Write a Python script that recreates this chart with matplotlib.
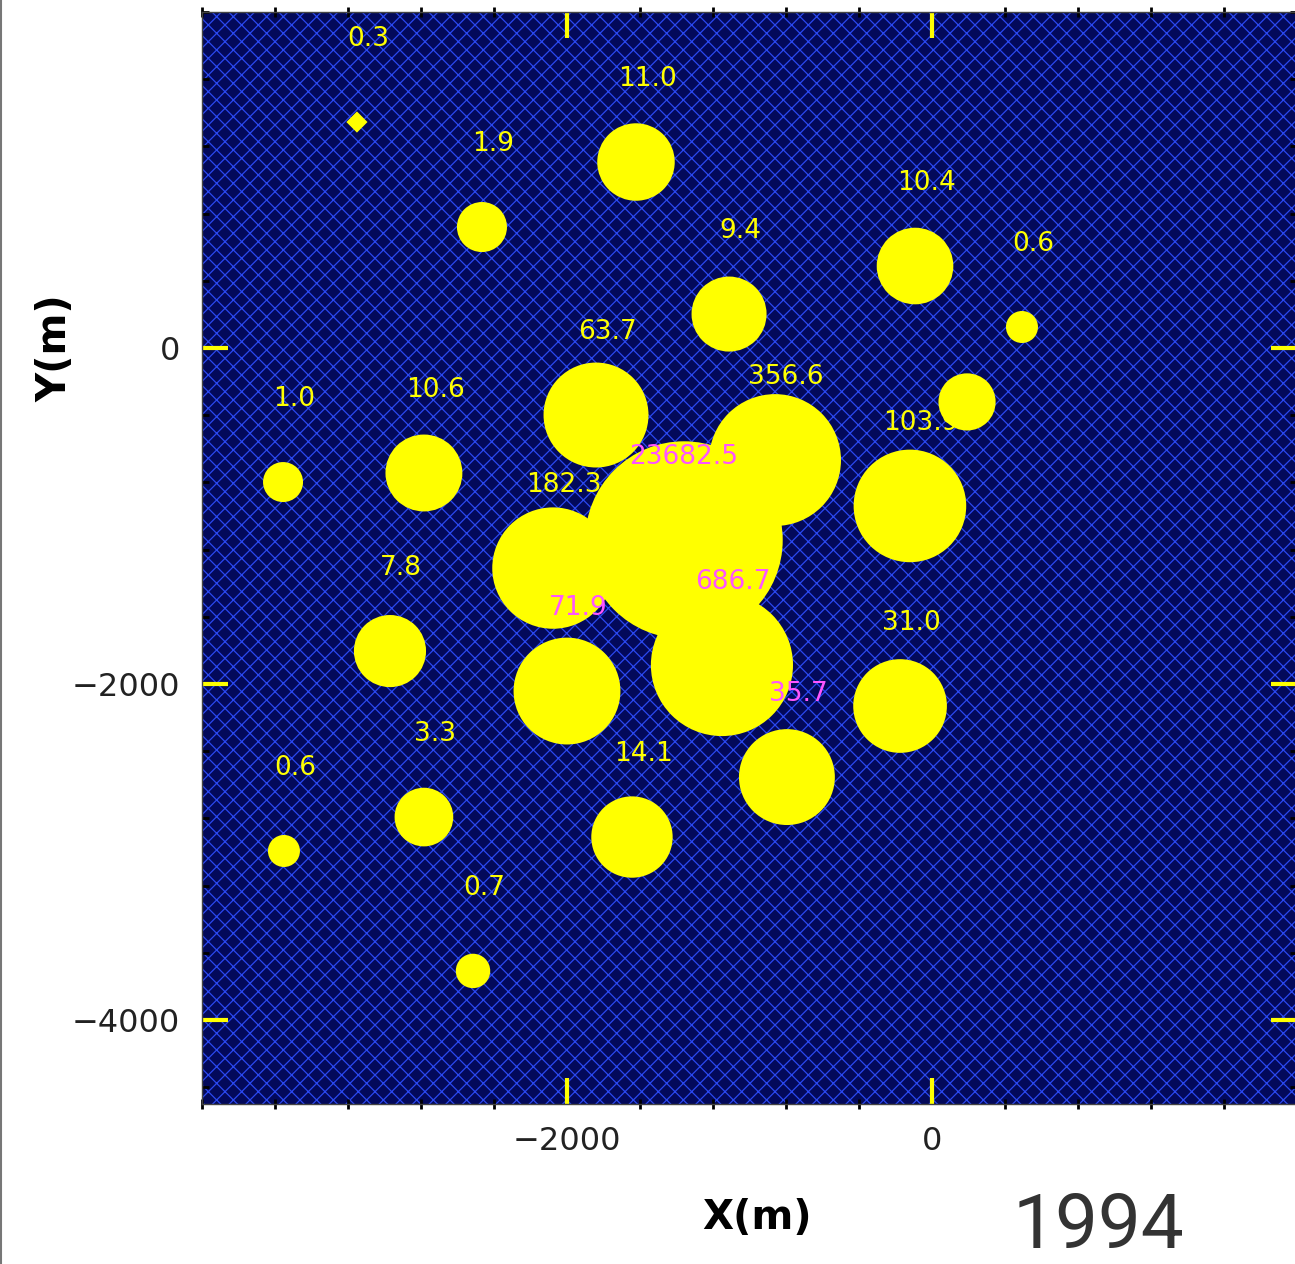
import numpy as np
import matplotlib.pyplot as plt
from matplotlib.patches import Rectangle
from matplotlib.lines import Line2D
from matplotlib.ticker import MultipleLocator

plt.rcParams['hatch.linewidth'] = 0.9

# well positions (m) and values for 1994
well_x = [-3151, -2466, -1622, -1112, -93, 493, 192, -3556, -2784, -1841,
          -860, -121, -1359, -2077, -2970, -2000, -1151, -175, -795, -2784,
          -3551, -1644, -2515]
well_y = [1345, 720, 1107, 202, 488, 125, -321, -798, -744, -399,
          -667, -940, -1143, -1310, -1804, -2042, -1887, -2131, -2554, -2792,
          -2994, -2911, -3708]
well_val = [0.3, 1.9, 11.0, 9.4, 10.4, 0.6, 3.0, 1.0, 10.6, 63.7,
            356.6, 103.9, 23682.5, 182.3, 7.8, 71.9, 686.7, 31.0, 35.7, 3.3,
            0.6, 14.1, 0.7]
well_lbl = ['0.3', '1.9', '11.0', '9.4', '10.4', '0.6', '', '1.0', '10.6', '63.7',
            '356.6', '103.9', '23682.5', '182.3', '7.8', '71.9', '686.7', '31.0', '35.7', '3.3',
            '0.6', '14.1', '0.7']
pink_lbl = ['23682.5', '686.7', '71.9', '35.7']

xticks = [-2000, 0]
yticks = [0, -2000, -4000]

df_x = np.array(well_x)
df_y = np.array(well_y)
val = np.array(well_val)

# marker radius grows with log of value (pixels)
r_px = 20 + 18 * np.log10(val)
ms = 2 * r_px * 0.72
small = val < 0.5

fig = plt.figure(figsize=(12.95, 12.64), dpi=100)
ax = fig.add_axes([202 / 1295, 160 / 1264, 1095 / 1295, 1092 / 1264])
ax.set_xlim(-4000, 2000)
ax.set_ylim(-4500, 2000)

# patterned background
ax.set_facecolor('#03095a')
ax.add_patch(Rectangle((0, 0), 1, 1, transform=ax.transAxes, facecolor='#03095a',
                       edgecolor='#2a48f0', hatch='xx', lw=0, zorder=0))

ax.scatter(df_x[~small], df_y[~small], s=ms[~small] ** 2, c='#ffff00',
           edgecolors='none', zorder=2)
ax.scatter(df_x[small], df_y[small], s=(ms[small] * 0.707) ** 2, c='#ffff00',
           marker='D', edgecolors='none', zorder=2)

for xi, yi, t in zip(well_x, well_y, well_lbl):
    if t == '':
        continue
    col = '#ff55ff' if t in pink_lbl else '#ffff00'
    dx = 0 if t == '23682.5' else 8
    ax.annotate(t, (xi, yi), xytext=(dx, 60), textcoords='offset points',
                ha='center', va='center', fontsize=19, color=col, zorder=3)

ax.set_xticks(xticks)
ax.set_yticks(yticks)
ax.xaxis.set_minor_locator(MultipleLocator(400))
ax.yaxis.set_minor_locator(MultipleLocator(400))
ax.tick_params(which='major', direction='in', length=19, width=3, color='#ffff00',
               top=True, right=True, labelsize=23, labelcolor='#222222', pad=16)
ax.tick_params(axis='x', which='minor', direction='inout', length=7, width=2,
               color='black', top=True)
ax.tick_params(axis='y', which='minor', direction='in', length=5, width=2,
               color='black', right=True)
for s in ax.spines.values():
    s.set_color('#444444')
    s.set_linewidth(1)

ax.set_xlabel('X(m)', fontsize=29, fontweight='bold', va='center')
ax.xaxis.set_label_coords(0.507, -0.104)
ax.set_ylabel('Y(m)', fontsize=29, fontweight='bold', va='center')
ax.yaxis.set_label_coords(-0.134, 0.692)

fig.text(1098 / 1295, 1 - 1228 / 1264, '1994', fontsize=55, family='Roboto',
         color='#333333', ha='center', va='center')
fig.add_artist(Line2D([0.001, 0.001], [0, 1], transform=fig.transFigure,
                      color='#777777', lw=1.5))

fig.savefig('out.png', dpi=100)
